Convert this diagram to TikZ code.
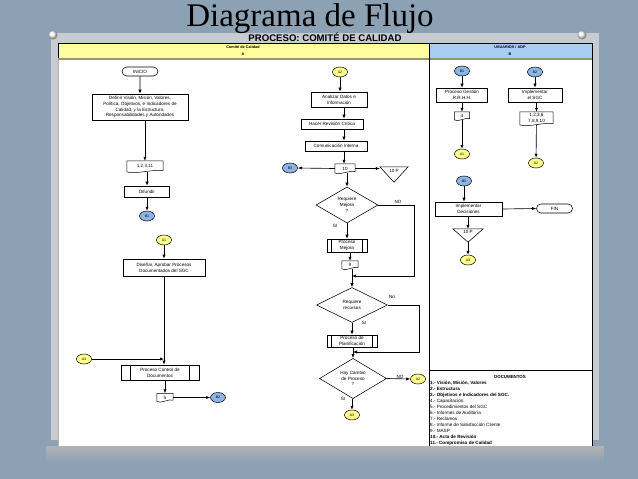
\documentclass[tikz,border=0pt]{standalone}
\usepackage{fontspec}
\setmainfont{Liberation Sans}
\newfontfamily\titlefont{Liberation Serif}
\usetikzlibrary{shapes.geometric,shapes.misc,arrows.meta,calc}
\definecolor{bgblue}{RGB}{140,161,180}
\definecolor{sheetgray}{RGB}{198,204,210}
\definecolor{hdryellow}{RGB}{255,255,160}
\definecolor{hdrblue}{RGB}{168,204,242}
\definecolor{elyellow}{RGB}{255,255,140}
\definecolor{elblue}{RGB}{140,180,228}
\definecolor{hdrline}{RGB}{150,150,110}
\newcommand\nf{\fontsize{4.6}{5.8}\selectfont}
\newcommand\elf{\fontsize{3.6}{4}\selectfont}
\tikzset{
 base/.style={inner sep=0pt, font=\nf},
 box/.style={base, draw, fill=white, line width=0.55pt, align=center},
 term/.style={base, rounded rectangle, draw, fill=white, line width=0.55pt, minimum width=36pt, minimum height=9pt},
 ely/.style={base, ellipse, draw, fill=elyellow, line width=0.5pt, minimum width=15pt, minimum height=10pt, font=\elf},
 elb/.style={base, ellipse, draw, fill=elblue, line width=0.5pt, minimum width=15pt, minimum height=10pt, font=\elf},
 docnode/.style={base, align=center},
 dia/.style={base, diamond, draw, fill=white, line width=0.55pt, align=center},
 lbl/.style={base},
 arr/.style={-{Latex[length=4pt,width=3.2pt]}, line width=0.65pt},
 hdr/.style={inner sep=0pt, font=\bfseries\fontsize{3.8}{4}\selectfont},
 item/.style={inner sep=0pt, anchor=west, font=\fontsize{4.6}{5}\selectfont},
 bitem/.style={inner sep=0pt, anchor=west, font=\bfseries\fontsize{4.6}{5}\selectfont},
}
\begin{document}
\begin{tikzpicture}[x=1pt,y=-1pt]
\useasboundingbox (0,0) rectangle (638,479);
\fill[bgblue] (0,0) rectangle (638,479);
% sheets
\shade[top color=gray!60!white, bottom color=bgblue] (46,446) rectangle (604,462);
\fill[sheetgray] (51,33) rectangle (599,440);
\fill[white] (58,43) rectangle (592,446);
\draw[gray!60, line width=0.5pt] (58,43) rectangle (592,446);
% pins
\shade[ball color=white] (53,35) circle (4.5);
\shade[ball color=white] (582,35) circle (4.5);
% title
\node[inner sep=0pt, font=\titlefont\fontsize{33}{33}\selectfont] (title) at (310,19) {Diagrama de Flujo};
\node[inner sep=0pt, font=\bfseries\fontsize{9.6}{9.6}\selectfont] (subtitle) at (325,37.5) {PROCESO: COMITÉ DE CALIDAD};
% header
\draw[fill=hdryellow, line width=0.5pt] (58,43) rectangle (429,58);
\draw[fill=hdrblue, line width=0.5pt] (429,43) rectangle (592,58);
\draw[hdrline, line width=1.2pt] (58,59) -- (592,59);
\draw[line width=1pt] (429,43) -- (429,446);
\draw[line width=1pt] (592,43) -- (592,446);
\node[hdr] (ha) at (243,47) {Comité de Calidad};
\node[hdr] (ha2) at (243,54) {A};
\node[hdr] (hb) at (510,47) {USUARIOS / ADP};
\node[hdr] (hb2) at (510,54) {B};

% ---- lane A left column
\node[term] (ini) at (140,71.5) {INICIO};
\node[box, minimum width=96pt, minimum height=26pt] (def) at (140,107) {Definir Visión, Misión, Valores,\\Política, Objetivos, e Indicadores de\\Calidad, y la Estructura,\\Responsabilidades y Autoridades};
\node[docnode, minimum width=36pt, minimum height=11pt] (d1) at (145,166.5) {1,2,3,11};
\node[box, minimum width=45pt, minimum height=11pt] (dif) at (147,191.5) {Difundir};
\node[elb] (b1a) at (147,216) {B1};
\node[ely] (a1a) at (164,240) {A1};
\node[box, minimum width=82pt, minimum height=17pt] (dis) at (164,267.5) {Diseñar, Aprobar Procesos\\Documentados del SGC};
\node[ely] (a3a) at (84,359) {A3};
\node[box, minimum width=78pt, minimum height=15pt] (pcd) at (160,372.5) {Proceso Control de\\Documentos};
\node[docnode, minimum width=16pt, minimum height=8pt] (d5) at (165,397.5) {5};
\node[elb] (b2a) at (218,397.5) {B2};

% ---- lane A middle column
\node[ely] (a2m) at (340,72) {A2};
\node[box, minimum width=56pt, minimum height=15pt] (ana) at (339,99.5) {Analizar Datos e\\Información};
\node[box, minimum width=62pt, minimum height=10pt] (hrc) at (332,124) {Hacer Revisión Crítica};
\node[box, minimum width=62pt, minimum height=10pt] (ci) at (336,146) {Comunicación Interna};
\node[docnode, minimum width=20pt, minimum height=9pt] (d10) at (345,168.5) {10};
\node[elb] (b3m) at (290,168) {B3};
\node[base, minimum width=28pt, minimum height=15pt] (t10) at (394,174.5) {};
\node[base] (t10t) at (394,170.5) {10 P};
\node[dia, minimum width=62pt, minimum height=36pt] (dia1) at (347,205) {Requiere\\Mejora\\?};
\node[box, minimum width=40pt, minimum height=13pt] (pm) at (347,245.5) {Proceso\\Mejora};
\node[docnode, minimum width=16pt, minimum height=8pt] (d9) at (350,265) {9};
\node[dia, minimum width=71pt, minimum height=35pt] (dia2) at (352,305) {Requiere\\recursos};
\node[box, minimum width=50pt, minimum height=12pt] (ppl) at (352,341) {Proceso de\\Planificación};
\node[dia, minimum width=67pt, minimum height=33pt] (dia3) at (353,378.5) {Hay Cambio\\de Proceso\\?};
\node[ely] (a2b) at (418,379) {A2};
\node[ely] (a3m) at (352,415) {A3};
\node[lbl] (lno1) at (398,201.5) {NO};
\node[lbl] (lsi1) at (335,226) {SI};
\node[lbl] (lno2) at (392,297) {No};
\node[lbl] (lsi2) at (364,323) {SI};
\node[lbl] (lno3) at (400,376.5) {NO};
\node[lbl] (lsi3) at (343,399) {SI};

% ---- lane B
\node[elb] (b1b) at (462,71) {B1};
\node[box, minimum width=51pt, minimum height=14pt] (pgr) at (462,95) {Proceso Gestión\\R.R.H.H.};
\node[docnode, minimum width=15pt, minimum height=8pt] (d4) at (462,116) {4};
\node[ely] (a1b) at (462,154) {A1};
\node[elb] (b2b) at (535,72) {B2};
\node[box, minimum width=54pt, minimum height=14pt] (isg) at (535,95) {Implementar\\el SGC};
\node[docnode, minimum width=33pt, minimum height=13pt] (dlist) at (536.5,118.5) {1,2,3,6\\7,8,9,10};
\node[ely] (a2c) at (536,163) {A2};
\node[elb] (b3b) at (464,181) {B3};
\node[box, minimum width=67pt, minimum height=14pt] (idec) at (468.5,209) {Implementar\\Decisiones};
\node[term] (fin) at (554.5,208.5) {FIN};
\node[base, minimum width=30pt, minimum height=13pt] (tb) at (468,235.5) {};
\node[base] (tbt) at (468,232) {10 P};
\node[ely] (a3b) at (468,260) {A3};

% document shapes
\foreach \n in {d1,d5,d10,d9,d4,dlist}{
  \draw[line width=0.5pt] (\n.north west) -- (\n.north east) -- ([yshift=1.5pt]\n.south east)
    .. controls ($(\n.south)!0.6!(\n.south east)+(0pt,3.5pt)$) and ($(\n.south)!0.6!(\n.south west)+(0pt,-2.5pt)$) .. ([yshift=0.3pt]\n.south west) -- cycle;
}
% predefined process bars
\foreach \n/\d in {pcd/10pt, pm/5pt, ppl/5pt}{
  \draw[line width=0.5pt] ([xshift=\d]\n.north west) -- ([xshift=\d]\n.south west);
  \draw[line width=0.5pt] ([xshift=-\d]\n.north east) -- ([xshift=-\d]\n.south east);
}
% merge triangles
\draw[line width=0.55pt] (t10.north west) -- (t10.north east) -- (t10.south) -- cycle;
\draw[line width=0.55pt] (tb.north west) -- (tb.north east) -- (tb.south) -- cycle;

% connectors lane A left
\draw[arr] (ini) -- (def);
\draw[arr] (def.south -| d1.north) -- (d1.north);
\draw[arr] (d1.south -| dif.north) -- (dif.north);
\draw[arr] (dif) -- (b1a);
\draw[arr] (a1a) -- (dis);
\draw[arr] (dis.south) -- (dis.south |- pcd.north);
\draw[arr] (a3a) -- (a3a -| dis.south);
\draw[arr] (pcd.south -| d5.north) -- (d5.north);
\draw[arr] (d5.east) -- (b2a.west);
% connectors middle
\coordinate (cx) at (344,0);
\draw[arr] (a2m.south) -- (a2m.south |- ana.north);
\draw[arr] (ana.south -| cx) -- (hrc.north -| cx);
\draw[arr] (hrc.south -| cx) -- (ci.north -| cx);
\draw[arr] (ci.south -| cx) -- (d10.north -| cx);
\draw[arr] (d10.west) -- (b3m.east);
\draw[arr] (d10.east) -- (d10.east -| t10.north west);
\draw[arr] (d10.south -| dia1.north) -- (dia1.north);
\coordinate (n1) at (414,276);
\draw[arr] (dia1.east) -| (n1) -- (n1 -| dia2.north);
\draw[arr] (dia1.south) -- (pm.north);
\draw[arr] (pm.south -| d9.north) -- (d9.north);
\draw[arr] (d9.south -| dia2.north) -- (dia2.north);
\coordinate (n2) at (419,352);
\draw[arr] (dia2.east) -| (n2) -- (n2 -| dia3.north);
\draw[arr] (dia2.south) -- (ppl.north);
\draw[arr] (ppl.south -| dia3.north) -- (dia3.north);
\draw[arr] (dia3.east) -- (a2b.west);
\draw[arr] (dia3.south -| a3m.north) -- (a3m.north);
% connectors lane B
\draw[arr] (b1b) -- (pgr);
\draw[arr] (pgr) -- (d4);
\draw[arr] (d4) -- (a1b);
\draw[arr] (b2b) -- (isg);
\draw[arr] (isg.south -| dlist.north) -- (dlist.north);
\draw[arr] (dlist) -- (a2c);
\draw[arr] (b3b.south) -- (b3b.south |- idec.north);
\draw[arr] (idec.east) -- (fin.west);
\draw[arr] (idec.south -| tb.north) -- (tb.north);
\draw[arr] (tb.south) -- (a3b.north);

% documents legend
\draw[line width=0.8pt] (429,370) -- (592,370);
\node[inner sep=0pt, font=\bfseries\fontsize{4.4}{5}\selectfont] (dtitle) at (510,376.5) {DOCUMENTOS};
\node[bitem] (i1) at (430,383) {1.- Visión, Misión, Valores};
\node[bitem] (i2) at (430,389) {2.- Estructura};
\node[bitem] (i3) at (430,395) {3.- Objetivos e Indicadores del SGC.};
\node[item] (i4) at (430,401) {4.- Capacitación.};
\node[item] (i5) at (430,407) {5.- Procedimientos del SGC};
\node[item] (i6) at (430,413) {6.- Informes de Auditoría};
\node[item] (i7) at (430,419) {7.- Reclamos};
\node[item] (i8) at (430,425) {8.- Informe de Satisfacción Cliente};
\node[item] (i9) at (430,431) {9.- MASP};
\node[bitem] (i10) at (430,437) {10.- Acta de Revisión};
\node[bitem] (i11) at (430,443) {11.- Compromiso de Calidad};
\end{tikzpicture}
\end{document}
